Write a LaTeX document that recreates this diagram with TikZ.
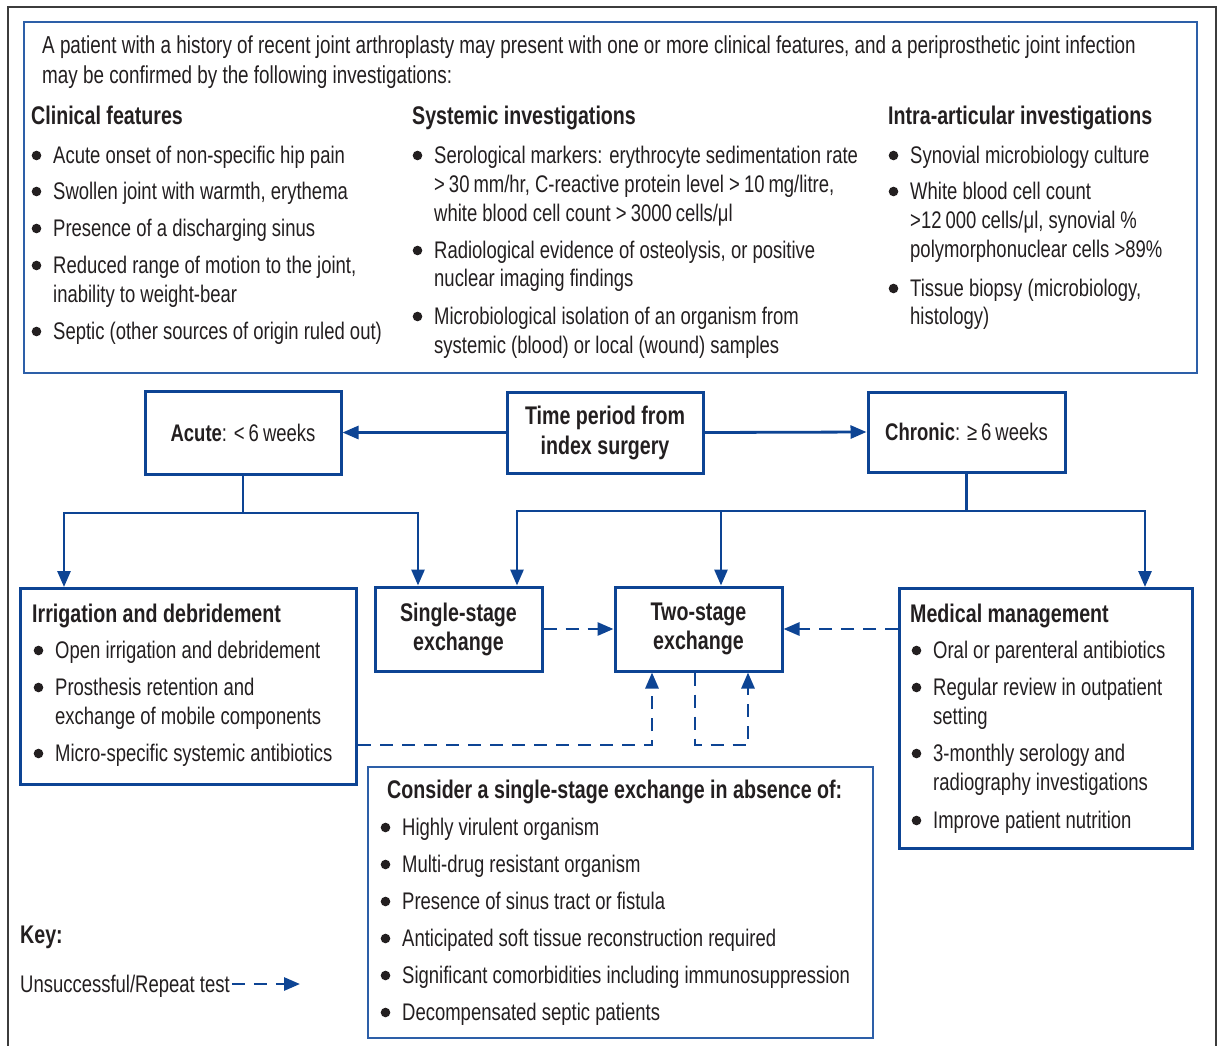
\documentclass[tikz,border=0pt]{standalone}
\usepackage{fontspec}
\setmainfont{Liberation Sans}[FakeStretch=0.77]
\usetikzlibrary{arrows.meta,calc}
\definecolor{fb}{RGB}{13,68,148}
\definecolor{tb}{RGB}{45,95,168}
\definecolor{tx}{RGB}{35,31,32}
\definecolor{fr}{RGB}{60,60,60}
\tikzset{
  body/.style={font=\fontsize{24}{29}\selectfont, text=tx, inner sep=0pt, anchor=base west},
  head/.style={font=\fontsize{25.5}{29}\selectfont\bfseries, text=tx, inner sep=0pt, anchor=base west},
  fbox/.style={draw=fb, line width=3pt, fill=white, inner sep=0pt, text=tx, align=center},
  tbox/.style={draw=tb, line width=1.5pt, inner sep=0pt},
  conn/.style={draw=fb, line width=2.8pt},
  arr/.style={conn, -{Triangle[length=16pt,width=13pt]}},
  darr/.style={arr, dash pattern=on 13pt off 9pt},
}
\newcommand\bitem[4]{%
  \fill[tx] (#2-16.5,#3-7.5) circle (4.8pt);
  \node[body] (#1) at (#2,#3) {#4};}
\newcommand\bline[4]{\node[body] (#1) at (#2,#3) {#4};}

\begin{document}
\begin{tikzpicture}[x=1pt,y=-1pt]
\useasboundingbox (0,0) rectangle (1220,1045);
\fill[white] (0,0) rectangle (1220,1045);
% outer frame
\draw[fr, line width=1.6pt] (8,1046) -- (8,7) -- (1216,7) -- (1216,1046);

% top box
\node[tbox, minimum width=1173pt, minimum height=351pt, anchor=north west] (topbox) at (23,21) {};
\node[body, font=\fontsize{24.5}{29}\selectfont] (i1) at (42,53) {A patient with a history of recent joint arthroplasty may present with one or more clinical features, and a periprosthetic joint infection};
\node[body, font=\fontsize{24.5}{29}\selectfont] (i2) at (42,83) {may be confirmed by the following investigations:};

\node[head] (h1) at (31,124) {Clinical features};
\node[head] (h2) at (412,124) {Systemic investigations};
\node[head] (h3) at (888,124) {Intra-articular investigations};

\bitem{c1a}{53}{163}{Acute onset of non-specific hip pain}
\bitem{c1b}{53}{199}{Swollen joint with warmth, erythema}
\bitem{c1c}{53}{236}{Presence of a discharging sinus}
\bitem{c1d}{53}{273}{Reduced range of motion to the joint,}
\bline{c1e}{53}{302}{inability to weight-bear}
\bitem{c1f}{53}{339}{Septic (other sources of origin ruled out)}

\bitem{c2a}{434}{163}{Serological markers: erythrocyte sedimentation rate}
\bline{c2b}{434}{192}{>\,30\,mm/hr, C-reactive protein level >\,10\,mg/litre,}
\bline{c2c}{434}{221}{white blood cell count >\,3000\,cells/μl}
\bitem{c2d}{434}{258}{Radiological evidence of osteolysis, or positive}
\bline{c2e}{434}{286}{nuclear imaging findings}
\bitem{c2f}{434}{324}{Microbiological isolation of an organism from}
\bline{c2g}{434}{353}{systemic (blood) or local (wound) samples}

\bitem{c3a}{910}{163}{Synovial microbiology culture}
\bitem{c3b}{910}{199}{White blood cell count}
\bline{c3c}{910}{228}{>12\,000 cells/μl, synovial \%}
\bline{c3d}{910}{257}{polymorphonuclear cells >89\%}
\bitem{c3e}{910}{296}{Tissue biopsy (microbiology,}
\bline{c3f}{910}{324}{histology)}

% flow boxes
\node[fbox, minimum width=196pt, minimum height=83pt, font=\fontsize{24}{29}\selectfont] (acute) at (243,432.5) {\textbf{Acute}: <\,6\,weeks};
\node[fbox, minimum width=196pt, minimum height=81pt, font=\fontsize{25.5}{30}\selectfont\bfseries] (time) at (605,432.5) {Time period from\\index surgery};
\node[fbox, minimum width=197pt, minimum height=80pt, font=\fontsize{24}{29}\selectfont] (chronic) at (966.5,432) {\textbf{Chronic}: ≥\,6\,weeks};

\node[fbox, minimum width=336pt, minimum height=196pt, anchor=north west] (irr) at (19,587) {};
\node[fbox, minimum width=167pt, minimum height=84pt, font=\fontsize{25.5}{29}\selectfont\bfseries] (single) at (458.5,629) {Single-stage\\exchange};
\node[fbox, minimum width=167pt, minimum height=84pt, font=\fontsize{25.5}{29}\selectfont\bfseries] (two) at (698.5,629) {Two-stage\\exchange};
\node[fbox, minimum width=293pt, minimum height=260pt, anchor=north west] (med) at (898,587) {};
\node[tbox, minimum width=505pt, minimum height=271pt, anchor=north west] (consider) at (367,766) {};

% irrigation text
\node[head] (irrh) at (32,622) {Irrigation and debridement};
\bitem{ia}{55}{658}{Open irrigation and debridement}
\bitem{ib}{55}{695}{Prosthesis retention and}
\bline{ic}{55}{724}{exchange of mobile components}
\bitem{id}{55}{761}{Micro-specific systemic antibiotics}

% medical text
\node[head] (medh) at (910,622) {Medical management};
\bitem{ma}{933}{658}{Oral or parenteral antibiotics}
\bitem{mb}{933}{695}{Regular review in outpatient}
\bline{mc}{933}{724}{setting}
\bitem{md}{933}{761}{3-monthly serology and}
\bline{me}{933}{790}{radiography investigations}
\bitem{mf}{933}{828}{Improve patient nutrition}

% consider text
\node[head] (conh) at (387,798) {Consider a single-stage exchange in absence of:};
\bitem{ka}{402}{835}{Highly virulent organism}
\bitem{kb}{402}{872}{Multi-drug resistant organism}
\bitem{kc}{402}{909}{Presence of sinus tract or fistula}
\bitem{kd}{402}{946}{Anticipated soft tissue reconstruction required}
\bitem{ke}{402}{983}{Significant comorbidities including immunosuppression}
\bitem{kf}{402}{1020}{Decompensated septic patients}

% connectors
\draw[arr] (time.west) -- (acute.east);
\draw[arr] (time.east) -- (chronic.west);
\draw[conn] (acute.south) -- (acute.south |- 0,513) coordinate (aj);
\draw[arr] (aj) -| (64,0 |- irr.north);
\draw[arr] (aj) -| (418,0 |- single.north);
\draw[conn] (chronic.south) -- (chronic.south |- 0,511) coordinate (cj);
\draw[arr] (cj) -| (517,0 |- single.north);
\draw[arr] (cj) -| (721,0 |- two.north);
\draw[arr] (cj) -| (1145,0 |- med.north);

\draw[darr] (single.east) -- (two.west);
\draw[darr] (med.west |- two.east) -- (two.east);
\draw[darr] (irr.east |- 0,745) -| (652,0 |- two.south);
\draw[darr] (two.south -| 695,0) -- (695,745) -| (748,0 |- two.south);

% key
\node[head] (key) at (20,943) {Key:};
\node[body] (keytxt) at (20,992) {Unsuccessful/Repeat test};
\coordinate (keyend) at (300,984);
\draw[darr] ($(keytxt.base east)+(2,-8)$) -- (keyend);
\end{tikzpicture}
\end{document}
